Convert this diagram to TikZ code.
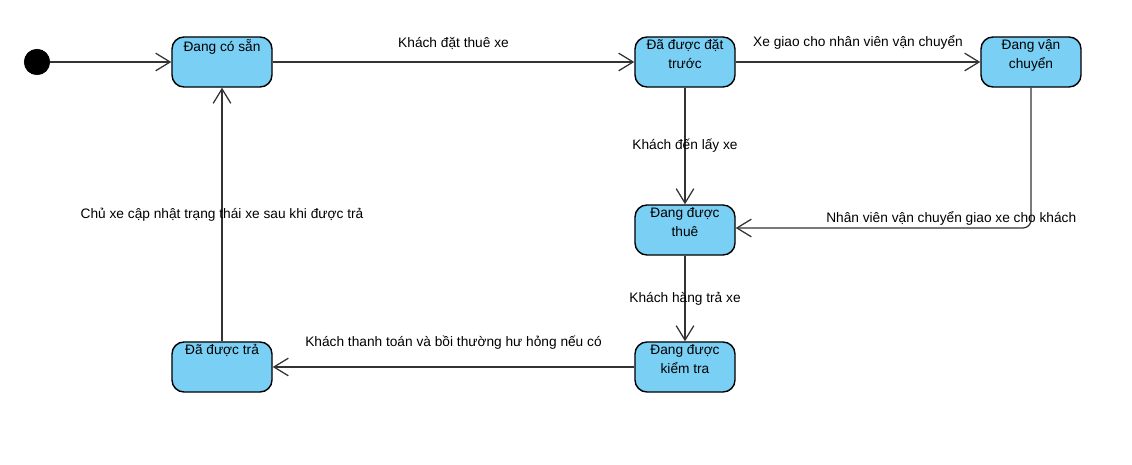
\documentclass[tikz,border=0pt]{standalone}
\usepackage{fontspec}
\setmainfont{Liberation Sans}
\usetikzlibrary{arrows.meta}
\definecolor{stateblue}{RGB}{122,207,245}
\definecolor{lineg}{RGB}{51,51,51}

\begin{document}
\begin{tikzpicture}[
  x=0.025cm, y=-0.025cm,
  every node/.style={font=\fontsize{9.75}{13.5}\selectfont},
  > = {Straight Barb[length=3.6mm,width=4.4mm,line width=0.9pt]},
  state/.style = {draw=black, line width=1pt, fill=stateblue, rounded corners=3mm,
                  minimum width=2.5cm, minimum height=1.25cm, inner sep=0pt},
  statetext/.style = {anchor=north, align=center, inner sep=2pt},
  trans/.style = {->, draw=lineg, line width=0.9pt},
  start/.style = {draw, fill, circle, minimum size=0.64cm, inner sep=0pt}
  ]
  \useasboundingbox (0,0) rectangle (1132,465);

	\node[start] (init) at (37,62) {};

	\node[state,label={[statetext]north:Đang có sẵn}]               (avail)    at (222,62)  {};
	\node[state,label={[statetext]north:Đã được đặt\\trước}]        (booked)   at (685,62)  {};
	\node[state,label={[statetext]north:Đang vận\\chuyển}]          (shipping) at (1031,62) {};
	\node[state,label={[statetext]north:Đang được\\thuê}]           (rented)   at (685,230) {};
	\node[state,label={[statetext]north:Đang được\\kiểm tra}]       (checking) at (685,367) {};
	\node[state,label={[statetext]north:Đã được trả}]               (returned) at (222,367) {};

	\coordinate (turn) at (1031,228);

	\draw[trans] (init) -- (avail);
	\draw[trans] (avail) -- node[above=5pt] {Khách đặt thuê xe} (booked);
	\draw[trans] (booked) -- node[above=5pt] {Xe giao cho nhân viên vận chuyển} (shipping);
	\draw[trans] (booked) -- node[pos=0.5] {Khách đến lấy xe} (rented);
	\draw[trans, rounded corners=2mm] (shipping) -- (turn) -- node[pos=0.27, yshift=0.23cm] {Nhân viên vận chuyển giao xe cho khách} (rented.east |- turn);
	\draw[trans] (rented) -- node[pos=0.5] {Khách hàng trả xe} (checking);
	\draw[trans] (checking) -- node[above=9pt] {Khách thanh toán và bồi thường hư hỏng nếu có} (returned);
	\draw[trans] (returned) -- node[pos=0.5] {Chủ xe cập nhật trạng thái xe sau khi được trả} (avail);

\end{tikzpicture}
\end{document}
